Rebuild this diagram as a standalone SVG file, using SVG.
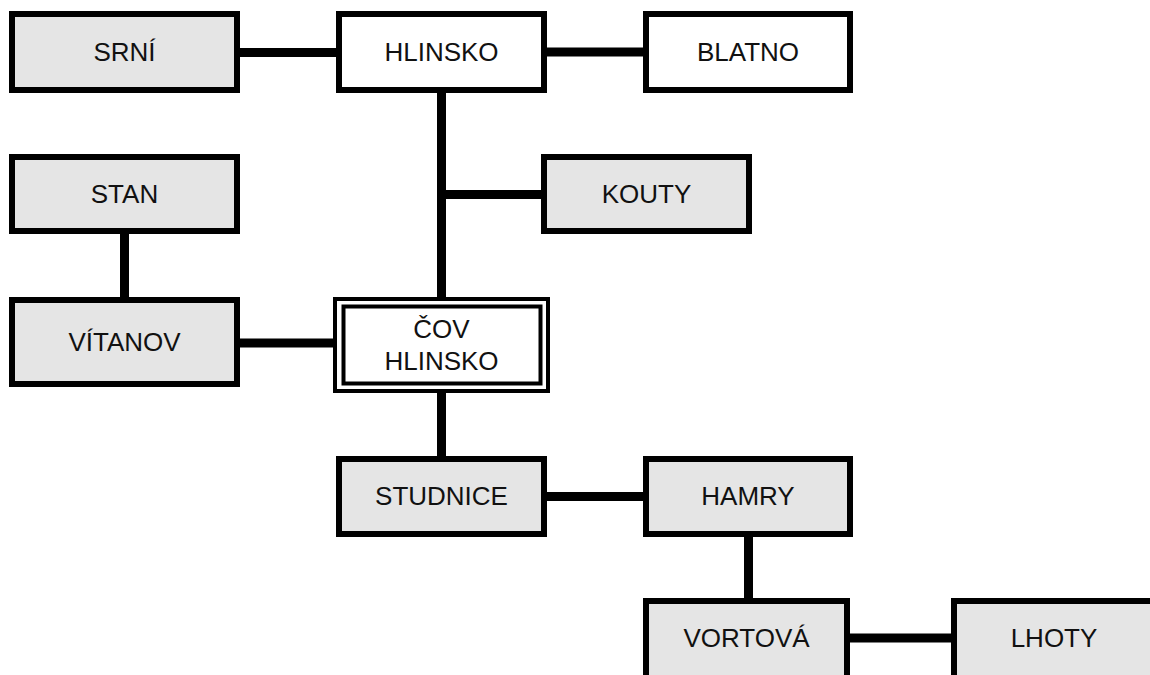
<svg xmlns="http://www.w3.org/2000/svg" width="1150" height="675" viewBox="0 0 1150 675">
  <style>
    .box { fill: #e5e5e5; stroke: #000; stroke-width: 6; }
    .plain { fill: #fff; stroke: #000; stroke-width: 6; }
    .frame { fill: #fff; stroke: #000; stroke-width: 4; }
    .lbl { font-family: "Liberation Sans", Arial, sans-serif; font-size: 26px; fill: #111; text-anchor: middle; }
    .link { stroke: #000; stroke-width: 9; fill: none; stroke-linecap: butt; }
  </style>
  <rect width="1150" height="675" fill="#fff"/>

  <g id="connectors">
    <line class="link" x1="240" y1="52.5" x2="336" y2="52.5"/>
    <line class="link" x1="547" y1="52" x2="643" y2="52"/>
    <line class="link" x1="441.5" y1="93" x2="441.5" y2="297"/>
    <line class="link" x1="441.5" y1="194.5" x2="541" y2="194.5"/>
    <line class="link" x1="124.5" y1="234" x2="124.5" y2="297"/>
    <line class="link" x1="240" y1="343" x2="333" y2="343"/>
    <line class="link" x1="441.5" y1="393" x2="441.5" y2="456"/>
    <line class="link" x1="547" y1="496.5" x2="643" y2="496.5"/>
    <line class="link" x1="748.5" y1="537" x2="748.5" y2="598"/>
    <line class="link" x1="850" y1="638" x2="951" y2="638"/>
  </g>

  <g id="srni">
    <rect class="box" x="12" y="14" width="225" height="76"/>
    <text class="lbl" x="124.5" y="61">SRNÍ</text>
  </g>
  <g id="hlinsko">
    <rect class="plain" x="339" y="14" width="205" height="76"/>
    <text class="lbl" x="441.5" y="61">HLINSKO</text>
  </g>
  <g id="blatno">
    <rect class="plain" x="646" y="14" width="204" height="76"/>
    <text class="lbl" x="748" y="61">BLATNO</text>
  </g>
  <g id="stan">
    <rect class="box" x="12" y="157" width="225" height="74"/>
    <text class="lbl" x="124.5" y="203">STAN</text>
  </g>
  <g id="kouty">
    <rect class="box" x="544" y="157" width="205" height="74"/>
    <text class="lbl" x="646.5" y="203">KOUTY</text>
  </g>
  <g id="vitanov">
    <rect class="box" x="12" y="300" width="225" height="84"/>
    <text class="lbl" x="124.5" y="351">VÍTANOV</text>
  </g>
  <g id="cov-hlinsko">
    <rect class="frame" x="335" y="299" width="213" height="92"/>
    <rect class="frame" x="343.5" y="306.5" width="197" height="77"/>
    <text class="lbl" x="441.5" y="338">ČOV</text>
    <text class="lbl" x="441.5" y="370">HLINSKO</text>
  </g>
  <g id="studnice">
    <rect class="box" x="339" y="459" width="205" height="75"/>
    <text class="lbl" x="441.5" y="505">STUDNICE</text>
  </g>
  <g id="hamry">
    <rect class="box" x="646" y="459" width="204" height="75"/>
    <text class="lbl" x="748" y="505">HAMRY</text>
  </g>
  <g id="vortova">
    <rect class="box" x="646" y="601" width="201" height="100"/>
    <text class="lbl" x="746.5" y="647">VORTOVÁ</text>
  </g>
  <g id="lhoty">
    <rect class="box" x="954" y="601" width="204" height="100"/>
    <text class="lbl" x="1054" y="647">LHOTY</text>
  </g>
</svg>
